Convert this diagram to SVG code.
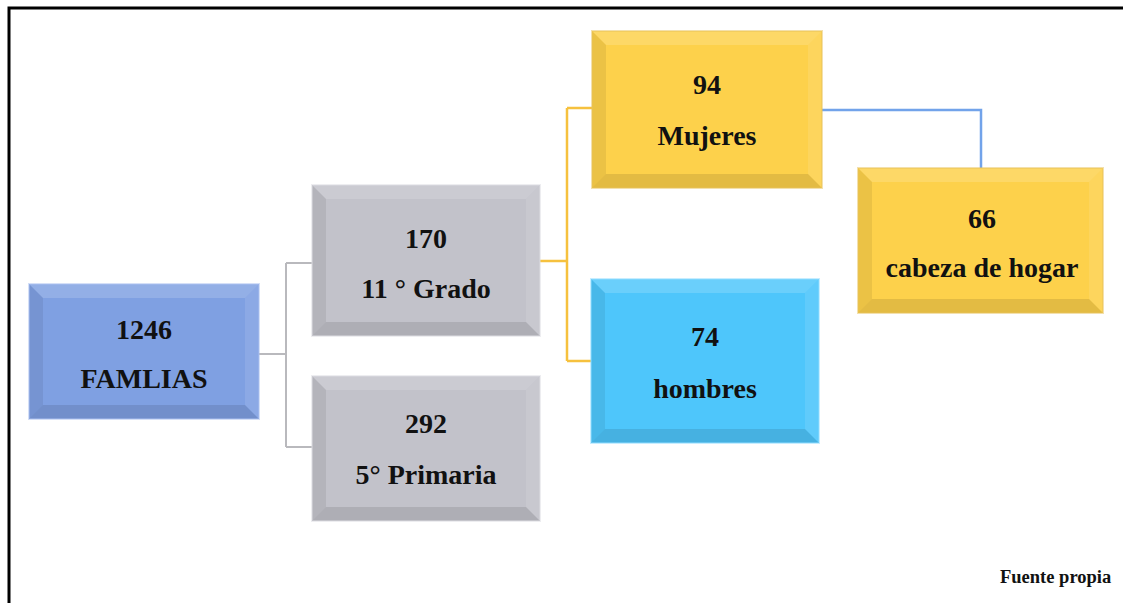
<svg xmlns="http://www.w3.org/2000/svg" width="1123" height="603" viewBox="0 0 1123 603">
<style>
.t{font-family:"Liberation Serif","Times New Roman",serif;font-weight:bold;font-size:28px;fill:#111;text-anchor:middle}
.src{font-family:"Liberation Serif","Times New Roman",serif;font-weight:bold;font-size:18.5px;fill:#111}
.bt{fill:#fff;opacity:.16}
.bl{fill:#000;opacity:.07}
.bb{fill:#000;opacity:.10}
.br{fill:#fff;opacity:.10}
.blue{fill:#7fa0e2}
.gray{fill:#c2c2ca}
.yel{fill:#fdd14b}
.cyan{fill:#4ec6fb}
.edge{fill:none;stroke-width:2;stroke-opacity:.5}
.cg{fill:none;stroke:#b9b9bd;stroke-width:2}
.cy{fill:none;stroke:#f6c13e;stroke-width:2.5}
.cb{fill:none;stroke:#72a3ea;stroke-width:2.5}
</style>
<rect width="1123" height="603" fill="#fff"/>
<path d="M9 603 V8 H1123" fill="none" stroke="#000" stroke-width="3"/>
<g id="connectors">
<path class="cg" d="M259 354 H286 M286 263 V447 M286 263 H312 M286 447 H312"/>
<path class="cy" d="M540 261 H567 M567 108 V361 M567 108 H592 M567 361 H591"/>
<path class="cb" d="M822 110 H981 V168"/>
</g>
<g id="n1246">
<rect class="blue" x="29" y="284" width="230" height="135"/>
<polygon class="bt" points="29,284 259,284 245,298 43,298"/>
<polygon class="bl" points="29,284 43,298 43,405 29,419"/>
<polygon class="bb" points="29,419 43,405 245,405 259,419"/>
<polygon class="br" points="259,284 259,419 245,405 245,298"/>
<rect class="edge" x="29" y="284" width="230" height="135" stroke="#a9c0f0"/>
<text class="t" x="144" y="339">1246</text>
<text class="t" x="144" y="388">FAMLIAS</text>
</g>
<g id="n170">
<rect class="gray" x="312" y="185" width="228" height="151"/>
<polygon class="bt" points="312,185 540,185 526,199 326,199"/>
<polygon class="bl" points="312,185 326,199 326,322 312,336"/>
<polygon class="bb" points="312,336 326,322 526,322 540,336"/>
<polygon class="br" points="540,185 540,336 526,322 526,199"/>
<rect class="edge" x="312" y="185" width="228" height="151" stroke="#dcdce2"/>
<text class="t" x="426" y="248">170</text>
<text class="t" x="426" y="298">11 ° Grado</text>
</g>
<g id="n292">
<rect class="gray" x="312" y="376" width="228" height="145"/>
<polygon class="bt" points="312,376 540,376 526,390 326,390"/>
<polygon class="bl" points="312,376 326,390 326,507 312,521"/>
<polygon class="bb" points="312,521 326,507 526,507 540,521"/>
<polygon class="br" points="540,376 540,521 526,507 526,390"/>
<rect class="edge" x="312" y="376" width="228" height="145" stroke="#dcdce2"/>
<text class="t" x="426" y="433">292</text>
<text class="t" x="426" y="484">5° Primaria</text>
</g>
<g id="n94">
<rect class="yel" x="592" y="31" width="230" height="157"/>
<polygon class="bt" points="592,31 822,31 808,45 606,45"/>
<polygon class="bl" points="592,31 606,45 606,174 592,188"/>
<polygon class="bb" points="592,188 606,174 808,174 822,188"/>
<polygon class="br" points="822,31 822,188 808,174 808,45"/>
<rect class="edge" x="592" y="31" width="230" height="157" stroke="#e8c25a"/>
<text class="t" x="707" y="94">94</text>
<text class="t" x="707" y="145">Mujeres</text>
</g>
<g id="n74">
<rect class="cyan" x="591" y="279" width="228" height="164"/>
<polygon class="bt" points="591,279 819,279 805,293 605,293"/>
<polygon class="bl" points="591,279 605,293 605,429 591,443"/>
<polygon class="bb" points="591,443 605,429 805,429 819,443"/>
<polygon class="br" points="819,279 819,443 805,429 805,293"/>
<rect class="edge" x="591" y="279" width="228" height="164" stroke="#8ddcff"/>
<text class="t" x="705" y="346">74</text>
<text class="t" x="705" y="398">hombres</text>
</g>
<g id="n66">
<rect class="yel" x="858" y="168" width="245" height="145"/>
<polygon class="bt" points="858,168 1103,168 1089,182 872,182"/>
<polygon class="bl" points="858,168 872,182 872,299 858,313"/>
<polygon class="bb" points="858,313 872,299 1089,299 1103,313"/>
<polygon class="br" points="1103,168 1103,313 1089,299 1089,182"/>
<rect class="edge" x="858" y="168" width="245" height="145" stroke="#e8c25a"/>
<text class="t" x="982" y="228">66</text>
<text class="t" x="982" y="277">cabeza de hogar</text>
</g>
<text class="src" x="1000" y="583">Fuente propia</text>
</svg>
